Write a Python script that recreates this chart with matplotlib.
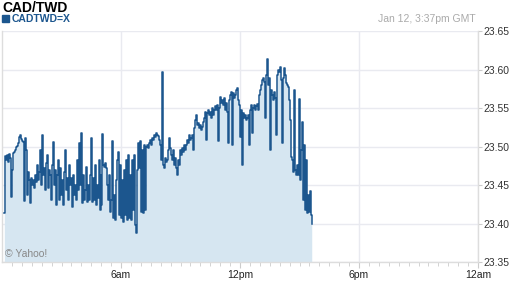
import numpy as np
import matplotlib
matplotlib.use('Agg')
import matplotlib.pyplot as plt
from matplotlib.patches import Rectangle

plt.rcParams['font.family'] = ['Liberation Sans', 'DejaVu Sans']

# CAD/TWD intraday quotes, roughly one every 3 minutes from 00:07
prices = [
    23.414, 23.488, 23.482, 23.489, 23.480, 23.490, 23.485, 23.434, 23.469, 23.492,
    23.493, 23.495, 23.499, 23.501, 23.505, 23.512, 23.515, 23.510, 23.507, 23.506,
    23.429, 23.511, 23.495, 23.437, 23.467, 23.456, 23.427, 23.459, 23.450, 23.456,
    23.446, 23.463, 23.454, 23.476, 23.456, 23.467, 23.495, 23.450, 23.515, 23.463,
    23.472, 23.444, 23.479, 23.489, 23.446, 23.469, 23.463, 23.431, 23.476, 23.506,
    23.450, 23.469, 23.424, 23.463, 23.482, 23.431, 23.472, 23.437, 23.456, 23.424,
    23.467, 23.495, 23.444, 23.459, 23.431, 23.476, 23.450, 23.459, 23.421, 23.463,
    23.437, 23.450, 23.431, 23.482, 23.444, 23.505, 23.450, 23.518, 23.427, 23.463,
    23.431, 23.444, 23.473, 23.428, 23.450, 23.431, 23.463, 23.511, 23.428, 23.459,
    23.431, 23.476, 23.424, 23.450, 23.433, 23.482, 23.418, 23.463, 23.424, 23.516,
    23.476, 23.473, 23.479, 23.472, 23.450, 23.431, 23.463, 23.415, 23.431, 23.507,
    23.407, 23.437, 23.405, 23.456, 23.482, 23.493, 23.411, 23.476, 23.407, 23.456,
    23.402, 23.469, 23.411, 23.482, 23.405, 23.489, 23.407, 23.463, 23.405, 23.482,
    23.418, 23.489, 23.398, 23.388, 23.469, 23.505, 23.472, 23.507, 23.415, 23.495,
    23.414, 23.502, 23.418, 23.499, 23.502, 23.498, 23.505, 23.508, 23.502, 23.511,
    23.508, 23.515, 23.512, 23.518, 23.515, 23.514, 23.508, 23.502, 23.482, 23.597,
    23.476, 23.472, 23.485, 23.480, 23.482, 23.495, 23.511, 23.498, 23.489, 23.482,
    23.495, 23.476, 23.485, 23.472, 23.463, 23.482, 23.476, 23.495, 23.489, 23.498,
    23.493, 23.502, 23.495, 23.502, 23.508, 23.505, 23.515, 23.508, 23.511, 23.515,
    23.495, 23.524, 23.534, 23.541, 23.528, 23.531, 23.524, 23.528, 23.521, 23.525,
    23.532, 23.537, 23.545, 23.508, 23.544, 23.547, 23.541, 23.545, 23.537, 23.550,
    23.541, 23.547, 23.553, 23.547, 23.554, 23.507, 23.550, 23.560, 23.564, 23.556,
    23.560, 23.554, 23.563, 23.547, 23.556, 23.545, 23.505, 23.560, 23.567, 23.571,
    23.502, 23.569, 23.563, 23.567, 23.573, 23.576, 23.560, 23.554, 23.512, 23.547,
    23.476, 23.544, 23.537, 23.541, 23.534, 23.537, 23.541, 23.502, 23.547, 23.554,
    23.518, 23.550, 23.554, 23.547, 23.553, 23.555, 23.547, 23.567, 23.573, 23.580,
    23.586, 23.589, 23.584, 23.537, 23.593, 23.614, 23.580, 23.589, 23.495, 23.573,
    23.567, 23.560, 23.571, 23.563, 23.515, 23.593, 23.599, 23.597, 23.603, 23.586,
    23.505, 23.589, 23.602, 23.593, 23.582, 23.580, 23.577, 23.560, 23.534, 23.486,
    23.482, 23.467, 23.573, 23.469, 23.463, 23.476, 23.463, 23.562, 23.456, 23.495,
    23.532, 23.431, 23.502, 23.418, 23.482, 23.414, 23.437, 23.415, 23.442, 23.411,
    23.399,
]
minutes = 7 + 3 * np.arange(len(prices))   # minutes after midnight, last quote 15:37

tick_pos = [360, 720, 1080, 1440]
tick_labels = ['6am', '12pm', '6pm', '12am']
y_ticks = [23.35, 23.40, 23.45, 23.50, 23.55, 23.60, 23.65]

line_col = '#1c568e'
fill_col = '#d6e6f1'
grid_col = '#e9eaf0'

fig = plt.figure(figsize=(5.12, 2.88), dpi=100)
ax = fig.add_axes([2 / 512, 1 - 262 / 288, 476 / 512, 231 / 288])

ax.fill_between(minutes, prices, 23.35, color=fill_col, lw=0, step='post', zorder=1)
ax.plot(minutes, prices, color=line_col, lw=1.1, drawstyle='steps-post', zorder=3)

ax.set_xlim(0, 1440)
ax.set_ylim(23.35, 23.65)

ax.set_xticks(tick_pos)
ax.set_xticklabels(tick_labels)
ax.set_xticks(np.arange(30, 1440, 30), minor=True)
ax.set_yticks(y_ticks)
ax.set_yticklabels(['%.2f' % v for v in y_ticks])
ax.yaxis.tick_right()

ax.grid(True, color=grid_col, lw=1, zorder=0)
ax.set_axisbelow(True)
ax.tick_params(axis='x', which='major', length=4, color='#cccccc', labelsize=7.5,
               labelcolor='#222222', pad=2)
ax.tick_params(axis='x', which='minor', length=3, color='#cccccc')
ax.tick_params(axis='y', length=3, color='#cccccc', labelsize=7.5,
               labelcolor='#333333', pad=1)

ax.spines['top'].set_visible(False)
for s in ['left', 'right', 'bottom']:
    ax.spines[s].set_color('#dddddd')
    ax.spines[s].set_linewidth(1)

ax.text(8, 23.357, '© Yahoo!', color='#888888', fontsize=7.5, zorder=4)

fig.text(2 / 512, 1 - 1 / 288, 'CAD/TWD', fontsize=10, fontweight='bold',
         color='black', va='top', ha='left')
fig.patches.append(Rectangle((2 / 512, 1 - 22 / 288), 7 / 512, 7 / 288,
                             transform=fig.transFigure, color=line_col))
fig.text(12 / 512, 1 - 18.5 / 288, 'CADTWD=X', fontsize=7.5, fontweight='bold',
         color=line_col, va='center', ha='left')
fig.text(476 / 512, 1 - 18.5 / 288, 'Jan 12, 3:37pm GMT', fontsize=7.5,
         color='#aaaaaa', va='center', ha='right')

fig.savefig('out.png', dpi=100)
